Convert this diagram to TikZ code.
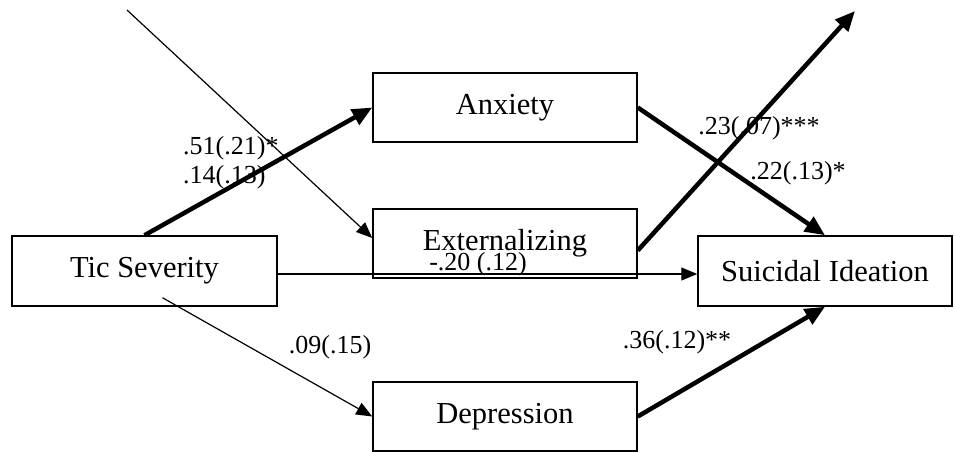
\documentclass[tikz,border=0pt]{standalone}
\usepackage{fontspec}
\setmainfont{Liberation Serif}
\usetikzlibrary{arrows.meta}
\tikzstyle{box} = [draw, line width=1.5pt, minimum width=264pt, minimum height=69pt, inner sep=0pt, font=\fontsize{30.5}{36}\selectfont]
\tikzstyle{thinarrow} = [line width=1.2pt, -{Triangle[length=16pt,width=13pt]}]
\tikzstyle{thickarrow} = [line width=4.5pt, -{Triangle[length=20pt,width=17pt]}]
\tikzstyle{coef} = [inner sep=0pt, font=\fontsize{26}{30}\selectfont]

\begin{document}
\begin{tikzpicture}[x=1pt, y=-1pt]
    \useasboundingbox (0,0) rectangle (954,452);

    \node[box, minimum width=265pt, minimum height=70pt] (tic) at (144.5,271) {Tic Severity};
    \node[box] (anx) at (505,107.5) {Anxiety};
    \node[box] (ext) at (505,243.5) {Externalizing};
    \node[box] (dep) at (505,416.5) {Depression};
    \node[box, minimum width=254pt, minimum height=70pt] (sui) at (825,271) {Suicidal Ideation};

    \coordinate (topleft) at (127,10);
    \coordinate (topright) at (855,11);

    % path coefficients
    \node[coef, anchor=west] (c51) at (183,148) {.51(.21)*};
    \node[coef, anchor=west] (c14) at (183,177) {.14(.13)};
    \node[coef] (c20) at (478,264) {-.20 (.12)};
    \node[coef] (c09) at (330,347) {.09(.15)};
    \node[coef] (c23) at (759,128) {.23(.07)***};
    \node[coef] (c22) at (798,173) {.22(.13)*};
    \node[coef] (c36) at (677,342) {.36(.12)**};

    \draw[thickarrow] (tic.north) -- (anx.west);
    \draw[thinarrow] (topleft) -- ([yshift=5.5pt]ext.west);
    \draw[thinarrow] ([yshift=-3pt]tic.east) -- ([yshift=-3pt]sui.west);
    \draw[thinarrow] ([xshift=18pt,yshift=9pt]tic.south) -- (dep.west);
    \draw[thickarrow] (anx.east) -- (sui.north);
    \draw[thickarrow] ([yshift=-7pt]ext.east) -- (topright);
    \draw[thickarrow] (dep.east) -- (sui.south);
\end{tikzpicture}
\end{document}
